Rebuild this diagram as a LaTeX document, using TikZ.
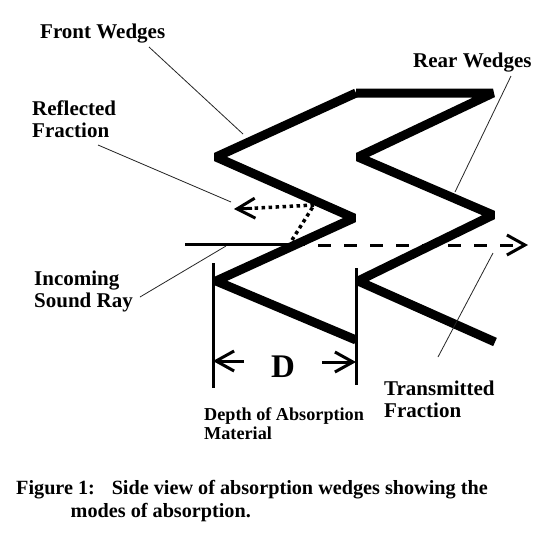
\documentclass[tikz,border=0pt]{standalone}
\usepackage{fontspec}
\setmainfont{Liberation Serif}
\usetikzlibrary{arrows.meta}
\tikzset{
  wedge/.style={line width=9pt, line join=miter, miter limit=2.2},
  leader/.style={line width=0.8pt, black!85},
  raypen/.style={line width=3pt},
  openhead/.style={-{Straight Barb[length=18pt, width=20pt, line width=3pt]}},
  lab/.style={font=\bfseries\fontsize{21}{22}\selectfont, align=left, inner sep=0pt},
}
\begin{document}
\begin{tikzpicture}[x=1pt, y=-1pt]
  \useasboundingbox[fill=white] (0,0) rectangle (560,560);
  % wedges
  \coordinate (fa) at (216,157);
  \coordinate (fb) at (354,218);
  \coordinate (fc) at (216,281);
  \coordinate (fd) at (356,340);
  \coordinate (ra) at (356,93);
  \coordinate (rb) at (493,93);
  \coordinate (rc) at (358,157);
  \coordinate (rd) at (493,215);
  \coordinate (re) at (358,281);
  \coordinate (rf) at (495,342);
  \draw[wedge] (ra) -- (fa) -- (fb) -- (fc) -- (fd);
  \draw[wedge] (ra) -- (rb) -- (rc) -- (rd) -- (re) -- (rf);
  % rays
  \coordinate (inray) at (185,244);
  \coordinate (hit) at (305,244);
  \coordinate (passray) at (318,245);
  \coordinate (outray) at (528,245);
  \coordinate (spot) at (292,240);
  \coordinate (bounce) at (314,205);
  \coordinate (backdot) at (252,208.3);
  \coordinate (backray) at (234,209);
  \draw[raypen] (inray) -- (hit);
  \draw[raypen, dash pattern=on 13pt off 13pt, openhead] (passray) -- (outray);
  \draw[line width=3.5pt, dash pattern=on 3.5pt off 3.5pt] (spot) -- (bounce);
  \draw[line width=3.5pt, dash pattern=on 3.5pt off 3.5pt] (bounce) -- (backdot);
  \draw[raypen, openhead] (backdot) -- (backray);
  % depth
  \coordinate (dla) at (213,263);
  \coordinate (dlb) at (213,388);
  \coordinate (dra) at (356,268);
  \coordinate (drb) at (356,385);
  \draw[raypen] (dla) -- (dlb);
  \draw[raypen] (dra) -- (drb);
  \node[font=\bfseries\fontsize{33}{34}\selectfont, inner sep=0pt] (dlab) at (283,367) {D};
  \coordinate (dl) at (244,361);
  \coordinate (dr) at (322,362);
  \draw[raypen, openhead] (dl) -- (dla |- dl);
  \draw[raypen, openhead] (dr) -- (dra |- dr);
  % labels
  \node[lab, anchor=west] (front) at (40,34) {Front Wedges};
  \node[lab, anchor=west] (rear) at (413,63) {Rear Wedges};
  \node[lab, anchor=north west] (refl) at (32,101) {Reflected\\Fraction};
  \node[lab, anchor=north west] (incoming) at (34,270.5) {Incoming\\Sound Ray};
  \node[lab, anchor=north west] (trans) at (384,380.5) {Transmitted\\Fraction};
  \node[lab, anchor=north west, font=\bfseries\fontsize{18.2}{19.5}\selectfont] (depth) at (204,407) {Depth of Absorption\\Material};
  \node[lab, anchor=north west, font=\bfseries\fontsize{20.2}{23}\selectfont] (fig) at (16,480.5) {Figure 1:\hspace{0.5em} Side view of absorption wedges showing the\\\hspace{2.7em}modes of absorption.};
  % leaders
  \coordinate (frontend) at (149,47);
  \coordinate (fronttip) at (243,134);
  \coordinate (rearend) at (511,76);
  \coordinate (reartip) at (455,192);
  \coordinate (reflend) at (98,145);
  \coordinate (refltip) at (231,202);
  \coordinate (inend) at (140,297);
  \coordinate (intip) at (226,246);
  \coordinate (transend) at (438,357);
  \coordinate (transtip) at (493,253);
  \draw[leader] (frontend) -- (fronttip);
  \draw[leader] (rearend) -- (reartip);
  \draw[leader] (reflend) -- (refltip);
  \draw[leader] (inend) -- (intip);
  \draw[leader] (transend) -- (transtip);
\end{tikzpicture}
\end{document}
